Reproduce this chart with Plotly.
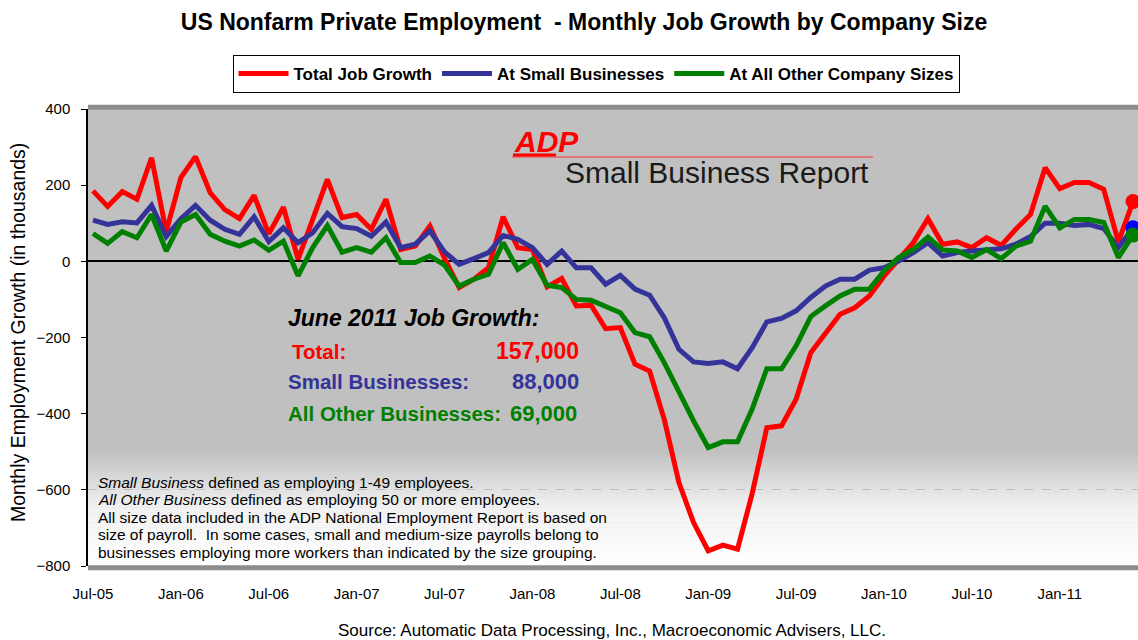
import plotly.graph_objects as go
import pandas as pd

# ---------------- data (thousands of jobs, Jul-2005 .. Jun-2011) ----------------
months = list(pd.date_range("2005-07-01", periods=72, freq="MS").strftime("%b-%y"))

total = [185, 144, 183, 163, 272, 78, 220, 275, 180, 136, 112, 173,
         72, 142, 5, 110, 215, 115, 123, 84, 163, 31, 40, 93,
         8, -69, -47, -17, 117, 36, 31, -67, -45, -117, -115, -177,
         -174, -270, -288, -415, -581, -686, -760, -745, -756, -610, -437, -432,
         -362, -240, -192, -139, -122, -91, -39, 5, 49, 112, 45, 51,
         36, 62, 42, 84, 123, 246, 191, 207, 207, 189, 51, 157]

small = [108, 97, 104, 101, 147, 65, 112, 147, 108, 84, 71, 117,
         52, 88, 49, 75, 126, 91, 86, 66, 103, 36, 45, 80,
         25, -8, 7, 23, 68, 58, 36, -8, 27, -17, -17, -60,
         -37, -73, -89, -148, -231, -264, -268, -264, -282, -227, -159, -150,
         -130, -95, -65, -47, -47, -23, -17, 1, 23, 49, 14, 23,
         27, 31, 33, 45, 65, 100, 100, 94, 97, 86, 36, 88]

other = [73, 47, 78, 62, 123, 27, 103, 123, 71, 53, 40, 56,
         29, 53, -38, 36, 94, 24, 36, 24, 62, -3, -3, 14,
         -10, -65, -47, -34, 49, -21, 5, -63, -69, -100, -102, -119,
         -135, -187, -198, -266, -345, -419, -489, -474, -474, -388, -282, -282,
         -222, -145, -117, -91, -73, -73, -25, 10, 31, 64, 30, 27,
         10, 31, 7, 40, 53, 145, 88, 110, 110, 102, 10, 69]

series_names = ["Total Job Growth", "At Small Businesses", "At All Other Company Sizes"]
series_colors = ["#FF0000", "#333399", "#008000"]
marker_colors = ["#FF0000", "#0000FF", "#008000"]

tick_labels = ["Jul-05", "Jan-06", "Jul-06", "Jan-07", "Jul-07", "Jan-08",
               "Jul-08", "Jan-09", "Jul-09", "Jan-10", "Jul-10", "Jan-11"]
y_ticks = [-800, -600, -400, -200, 0, 200, 400]

FONT = "Liberation Sans, Arial, sans-serif"

# ---------------- geometry ----------------
W, H = 1138, 640
L, R, T, B = 88, 1138, 109, 566          # plot area in page pixels
def ax(px):
    return (px - L) / (R - L)
def ay(py):
    return (B - py) / (B - T)

fig = go.Figure()

for name, vals, col in zip(series_names, [total, small, other], series_colors):
    fig.add_trace(go.Scatter(x=months, y=vals, mode="lines", name="<b>%s</b>" % name,
                             line=dict(color=col, width=5)))

for vals, col in zip([total, small, other], marker_colors):
    fig.add_trace(go.Scatter(x=[months[-1]], y=[vals[-1]], mode="markers", showlegend=False,
                             marker=dict(color=col, size=15, line=dict(width=0)),
                             hoverinfo="skip"))

shapes = []
# background gradient at bottom of plot area (gray -> white)
y_start, y_mid, y_end = 450, 505, 562
n = 45
for k in range(n):
    p0 = y_start + (y_end - y_start) * k / n
    p1 = y_start + (y_end - y_start) * (k + 1) / n
    pm = (p0 + p1) / 2
    if pm < y_mid:
        c = 192 + (240 - 192) * (pm - y_start) / (y_mid - y_start)
    else:
        c = 240 + (255 - 240) * (pm - y_mid) / (y_end - y_mid)
    c = int(round(c))
    shapes.append(dict(type="rect", xref="x domain", yref="paper", x0=0, x1=1,
                       y0=ay(p1 + 0.5), y1=ay(p0), fillcolor="rgb(%d,%d,%d)" % (c, c, c),
                       line=dict(width=0), layer="below"))
shapes.append(dict(type="rect", xref="x domain", yref="paper", x0=0, x1=1,
                   y0=0, y1=ay(y_end), fillcolor="white", line=dict(width=0), layer="below"))
# plot frame bands (top/bottom)
shapes.append(dict(type="line", xref="paper", yref="paper", x0=0, x1=1, y0=1.004, y1=1.004,
                   line=dict(color="#8C8C8C", width=5), layer="above"))
shapes.append(dict(type="line", xref="paper", yref="paper", x0=0, x1=1, y0=-0.004, y1=-0.004,
                   line=dict(color="#8C8C8C", width=5), layer="above"))
# ADP logo lines
shapes.append(dict(type="line", xref="paper", yref="paper", x0=ax(512), x1=ax(873),
                   y0=ay(157), y1=ay(157), line=dict(color="#FF3030", width=1), layer="above"))
shapes.append(dict(type="line", xref="paper", yref="paper", x0=ax(513), x1=ax(556),
                   y0=ay(155), y1=ay(155), line=dict(color="#FF0000", width=3), layer="above"))

annotations = []
def txt(text, x, y, size, color="black", xanchor="left", yanchor="middle", **kw):
    annotations.append(dict(text=text, x=ax(x), y=ay(y), xref="paper", yref="paper",
                            xanchor=xanchor, yanchor=yanchor, showarrow=False,
                            font=dict(family=FONT, size=size, color=color), **kw))

# ADP logo
txt("<b><i>ADP</i></b>", 546, 141, 30, "#FF0000", xanchor="center")
txt("Small Business Report", 563, 172, 30, "#1A1A1A")

# June 2011 summary block
txt("<b><i>June 2011 Job Growth:</i></b>", 286, 318, 23)
txt("<b>Total:</b>", 290, 351, 20.5, "#FF0000")
txt("<b>%s</b>" % format(total[-1] * 1000, ","), 581, 351, 23, "#FF0000", xanchor="right")
txt("<b>Small Businesses:</b>", 286, 381, 20.5, "#333399")
txt("<b>%s</b>" % format(small[-1] * 1000, ","), 581, 381, 22, "#333399", xanchor="right")
txt("<b>All Other Businesses:</b>", 286, 413, 20.5, "#008000")
txt("<b>%s</b>" % format(other[-1] * 1000, ","), 579, 413, 22, "#008000", xanchor="right")

# footnote (one line each)
foot_lines = ["<i>Small Business</i> defined as employing 1-49 employees.",
              "<i>All Other Business</i> defined as employing 50 or more employees.",
              "All size data included in the ADP National Employment Report is based on",
              "size of payroll.  In some cases, small and medium-size payrolls belong to",
              "businesses employing more workers than indicated by the size grouping."]
for k, line in enumerate(foot_lines):
    txt(line, 96, 482 + 17.5 * k, 15.5)

# y-axis title
txt("Monthly Employment Growth (in thousands)", 18, 333, 19.5, xanchor="center", textangle=-90)

# source
txt("Source: Automatic Data Processing, Inc., Macroeconomic Advisers, LLC.", 612, 630, 17,
    xanchor="center")

fig.update_layout(
    width=W, height=H,
    margin=dict(l=L, r=W - R, t=T, b=H - B, pad=0),
    paper_bgcolor="white", plot_bgcolor="#C0C0C0",
    font=dict(family=FONT, size=15, color="black"),
    title=dict(text="<b>US Nonfarm Private Employment \u00a0- Monthly Job Growth by Company Size</b>",
               x=584 / W, xanchor="center", xref="container",
               y=1 - 22 / H, yanchor="middle", yref="container",
               font=dict(family=FONT, size=23, color="black")),
    legend=dict(orientation="h", x=ax(596), y=ay(55), xanchor="center", yanchor="top",
                bgcolor="white", bordercolor="black", borderwidth=1,
                font=dict(family=FONT, size=17, color="black"),
                itemwidth=50, tracegroupgap=0),
    shapes=shapes, annotations=annotations,
    showlegend=True,
)

fig.update_xaxes(type="category", range=[-0.34, 71.34], tickmode="array",
                 tickvals=tick_labels, ticktext=tick_labels, showgrid=False,
                 showline=False, ticks="", zeroline=False,
                 tickfont=dict(family=FONT, size=15, color="black"),
                 ticklabelstandoff=17)
fig.update_yaxes(range=[-800, 400], tickmode="array", tickvals=y_ticks,
                 showgrid=True, gridcolor="#BDBDBD", griddash="dash", gridwidth=1,
                 zeroline=True, zerolinecolor="black", zerolinewidth=1.5,
                 showline=True, linecolor="black", linewidth=1.5,
                 ticks="outside", ticklen=5, tickcolor="black",
                 tickfont=dict(family=FONT, size=15, color="black"),
                 ticklabelstandoff=8)

fig.write_html("out.html", config={"displayModeBar": False},
               post_script="document.body.style.margin='0';"
                           "document.body.style.overflow='hidden';")
